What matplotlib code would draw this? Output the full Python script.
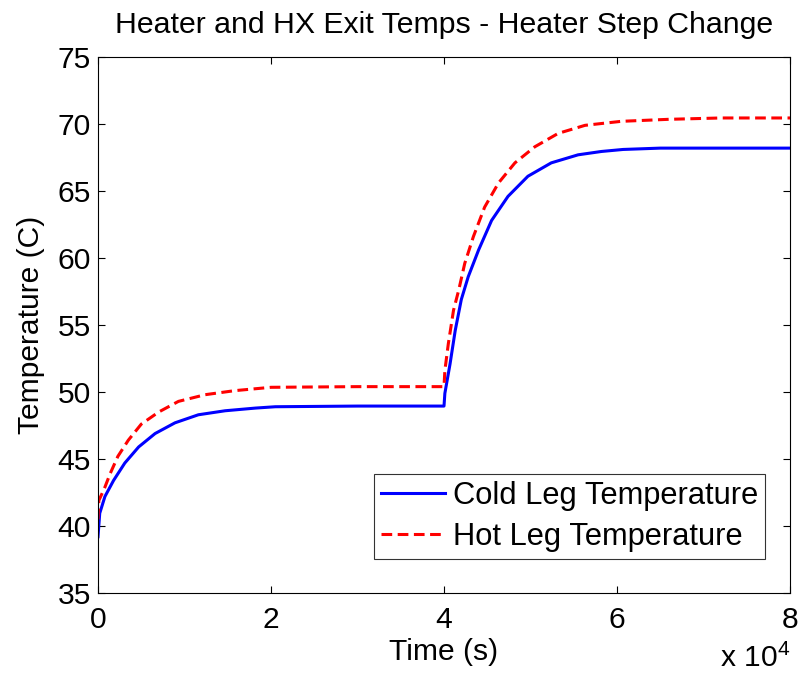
import numpy as np
import matplotlib
matplotlib.use("Agg")
import matplotlib.pyplot as plt
from matplotlib.ticker import FuncFormatter

plt.rcParams['font.family'] = ['Liberation Sans', 'DejaVu Sans']
plt.rcParams['mathtext.fontset'] = 'custom'
plt.rcParams['mathtext.rm'] = 'Liberation Sans'

# Cold leg (HX exit) temperature (time in units of 1e4 s)
time_cold = np.array([0, 0.02, 0.08, 0.18, 0.31, 0.47, 0.66, 0.89, 1.16, 1.47, 1.82, 2.05, 3.0, 4.0,
                      4.01, 4.07, 4.13, 4.20, 4.28, 4.40, 4.55, 4.74, 4.97, 5.24, 5.55, 5.82, 6.07,
                      6.5, 7.0, 8.0]) * 1e4
temp_cold = [39.2, 40.95, 42.2, 43.4, 44.7, 45.9, 46.9, 47.7, 48.3, 48.6, 48.8, 48.9, 48.95, 48.95,
             49.9, 52.1, 54.6, 56.9, 58.6, 60.6, 62.8, 64.6, 66.1, 67.1, 67.7, 67.95, 68.1,
             68.2, 68.2, 68.2]

# Hot leg (heater exit) temperature
time_hot = np.array([0, 0.01, 0.08, 0.14, 0.23, 0.35, 0.50, 0.70, 0.93, 1.24, 1.58, 2.0, 3.0, 4.0,
                     4.01, 4.05, 4.11, 4.17, 4.24, 4.34, 4.47, 4.63, 4.82, 5.05, 5.32, 5.63, 6.05,
                     6.6, 7.2, 8.0]) * 1e4
temp_hot = [40.5, 41.9, 42.9, 43.9, 45.2, 46.4, 47.6, 48.5, 49.3, 49.8, 50.1, 50.35, 50.4, 50.4,
            51.6, 53.6, 56.1, 57.6, 59.6, 61.6, 63.8, 65.6, 67.1, 68.3, 69.3, 69.9, 70.2,
            70.35, 70.45, 70.45]

x_ticks = [0, 2e4, 4e4, 6e4, 8e4]
y_ticks = [35, 40, 45, 50, 55, 60, 65, 70, 75]

fs = 21.6
fig = plt.figure(figsize=(8.01, 6.76), dpi=100)
ax = fig.add_axes([98 / 801, 1 - 593 / 676, 692 / 801, 536 / 676])

ax.plot(time_cold, temp_cold, color="#0000ff", lw=2.2, label="Cold Leg Temperature")
ax.plot(time_hot, temp_hot, color="#ff0000", lw=2.2, ls=(0, (3.5, 1.8)), label="Hot Leg Temperature")

ax.set_xlim(0, 8e4)
ax.set_ylim(35, 75)
ax.set_xticks(x_ticks)
ax.set_yticks(y_ticks)
ax.xaxis.set_major_formatter(FuncFormatter(lambda v, p: "%d" % round(v / 1e4)))
ax.tick_params(direction="in", length=5, width=0.8, top=True, right=True, labelsize=fs)
ax.tick_params(axis="x", pad=9.5)
ax.tick_params(axis="y", pad=5)
for s in ax.spines.values():
    s.set_linewidth(0.8)

ax.set_title("Heater and HX Exit Temps - Heater Step Change", fontsize=21.8, pad=17)
ax.set_xlabel("Time (s)", fontsize=fs, labelpad=3)
ax.set_ylabel("Temperature (C)", fontsize=fs, labelpad=9)
# exponent label sits at the very bottom edge, as in the original
fig.text(790 / 801, 9 / 676, "x 10$^{4}$", ha="right", va="baseline", fontsize=fs)

leg = ax.legend(loc="lower right", bbox_to_anchor=(0.964, 0.0634), borderaxespad=0,
                fontsize=22.2, frameon=True, fancybox=False, edgecolor="black",
                handlelength=2.1, handletextpad=0.25, borderpad=0.22, labelspacing=0.36)
leg.get_frame().set_linewidth(0.8)

fig.savefig("out.png", dpi=100)
